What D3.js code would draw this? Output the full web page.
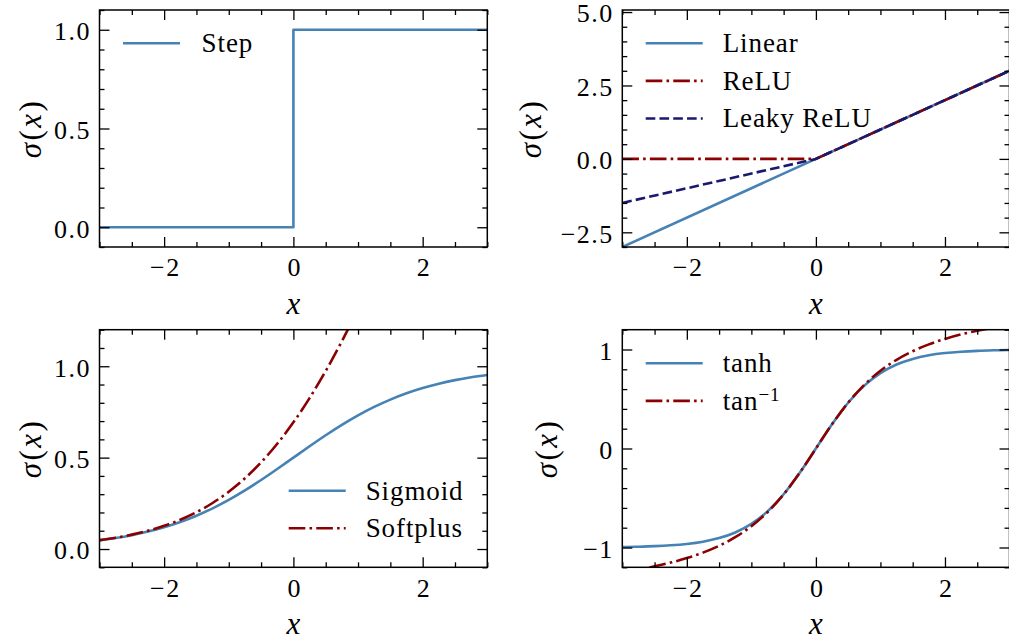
<!DOCTYPE html>
<html>
<head>
<meta charset="utf-8">
<script src="https://cdn.jsdelivr.net/npm/d3@7"></script>
<style>
  html, body { margin: 0; padding: 0; background: #fff; }
  svg { display: block; }
  text { font-family: "Liberation Serif", "DejaVu Serif", serif; fill: #000; }
</style>
</head>
<body>
<svg id="fig" width="1009" height="641"></svg>
<script>
// ---- data: activation functions sampled on [-3, 3] ----
const xGrid = [-3, -2.75, -2.5, -2.25, -2, -1.75, -1.5, -1.25, -1, -0.75, -0.5, -0.25,
               0, 0.25, 0.5, 0.75, 1, 1.25, 1.5, 1.75, 2, 2.25, 2.5, 2.75, 3];

const stepX = [-3, 0, 3];
const stepY = [0, 1, 1];

const kneeX = [-3, 0, 3];
const linearY = [-3, 0, 3];
const reluY = [0, 0, 3];
const leakyReluY = [-1.5, 0, 3];

const sigmoidY = [0.0474, 0.0601, 0.0759, 0.0953, 0.1192, 0.1480, 0.1824, 0.2227, 0.2689,
                  0.3208, 0.3775, 0.4378, 0.5, 0.5622, 0.6225, 0.6792, 0.7311, 0.7773,
                  0.8176, 0.8520, 0.8808, 0.9047, 0.9241, 0.9399, 0.9526];
const softplusY = [0.0486, 0.0620, 0.0789, 0.1002, 0.1269, 0.1602, 0.2014, 0.2519, 0.3133,
                   0.3869, 0.4741, 0.5759, 0.6931, 0.8259, 0.9741, 1.1369, 1.3133, 1.5019,
                   1.7014, 1.9102, 2.1269, 2.3502, 2.5789, 2.8120, 3.0486];
const tanhY = [-0.9951, -0.9918, -0.9866, -0.9780, -0.9640, -0.9414, -0.9051, -0.8483, -0.7616,
               -0.6351, -0.4621, -0.2449, 0, 0.2449, 0.4621, 0.6351, 0.7616, 0.8483,
               0.9051, 0.9414, 0.9640, 0.9780, 0.9866, 0.9918, 0.9951];
const arctanY = [-1.2490, -1.2220, -1.1903, -1.1526, -1.1071, -1.0517, -0.9828, -0.8961, -0.7854,
                 -0.6435, -0.4636, -0.2450, 0, 0.2450, 0.4636, 0.6435, 0.7854, 0.8961,
                 0.9828, 1.0517, 1.1071, 1.1526, 1.1903, 1.2220, 1.2490];

// ---- tick values and labels ----
const xTicks = [-2, 0, 2];
const xTickLabels = ["\u22122", "0", "2"];
const xMinor = [-3, -2.5, -1.5, -1, -0.5, 0.5, 1, 1.5, 2.5, 3];

const stepYTicks = [0, 0.5, 1];
const stepYLabels = ["0.0", "0.5", "1.0"];
const reluYTicks = [-2.5, 0, 2.5, 5];
const reluYLabels = ["\u22122.5", "0.0", "2.5", "5.0"];
const sigYTicks = [0, 0.5, 1];
const sigYLabels = ["0.0", "0.5", "1.0"];
const tanhYTicks = [-1, 0, 1];
const tanhYLabels = ["\u22121", "0", "1"];

// ---- styles ----
const BLUE = "#4682b4", RED = "#8b0000", NAVY = "#191970";
const LW = 2.6;
const DASHDOT = [6.4 * LW, 1.6 * LW, 1 * LW, 1.6 * LW].join(",");
const DASHED = [3.7 * LW, 1.6 * LW].join(",");
const TICK_FONT = "26px", LEGEND_FONT = "27px", LABEL_FONT = "31px";

const zip = (xa, ya) => xa.map((x, i) => [x, ya[i]]);

const panels = [
  {
    box: { left: 99.5, top: 10, right: 487.3, bottom: 247 },
    yDomain: [-0.1, 1.1], yTicks: stepYTicks, yLabels: stepYLabels,
    yMinorStep: 0.1, ylabelX: 32,
    series: [
      { name: "Step", pts: zip(stepX, stepY), color: BLUE, dash: null, curve: d3.curveStepAfter }
    ],
    legend: { x: 123, y: 43.3, textX: 201.6 }
  },
  {
    box: { left: 622.3, top: 10, right: 1009.5, bottom: 247 },
    yDomain: [-3, 5.07], yTicks: reluYTicks, yLabels: reluYLabels,
    yMinorStep: 0.5, ylabelX: 532,
    series: [
      { name: "Linear", pts: zip(kneeX, linearY), color: BLUE, dash: null, curve: d3.curveLinear },
      { name: "ReLU", pts: zip(kneeX, reluY), color: RED, dash: DASHDOT, curve: d3.curveLinear },
      { name: "Leaky ReLU", pts: zip(kneeX, leakyReluY), color: NAVY, dash: DASHED, curve: d3.curveLinear }
    ],
    legend: { x: 645.7, y: 43.3, textX: 722.7 }
  },
  {
    box: { left: 99.5, top: 329.7, right: 487.3, bottom: 567.3 },
    yDomain: [-0.1, 1.2], yTicks: sigYTicks, yLabels: sigYLabels,
    yMinorStep: 0.1, ylabelX: 32,
    series: [
      { name: "Sigmoid", pts: zip(xGrid, sigmoidY), color: BLUE, dash: null, curve: d3.curveMonotoneX },
      { name: "Softplus", pts: zip(xGrid, softplusY), color: RED, dash: DASHDOT, curve: d3.curveMonotoneX }
    ],
    legend: { x: 288.7, y: 490.7, textX: 365.7 }
  },
  {
    box: { left: 622.3, top: 329.7, right: 1009.5, bottom: 567.3 },
    yDomain: [-1.2, 1.2], yTicks: tanhYTicks, yLabels: tanhYLabels,
    yMinorStep: 0.2, ylabelX: 548,
    series: [
      { name: "tanh", pts: zip(xGrid, tanhY), color: BLUE, dash: null, curve: d3.curveMonotoneX },
      { name: "tan", sup: "\u22121", pts: zip(xGrid, arctanY), color: RED, dash: DASHDOT, curve: d3.curveMonotoneX }
    ],
    legend: { x: 645.7, y: 363.3, textX: 722.7 }
  }
];

const svg = d3.select("#fig");
const LEG_GAP = 37.6;

panels.forEach((p, idx) => {
  const b = p.box;
  const x = d3.scaleLinear().domain([-3, 3]).range([b.left, b.right]);
  const y = d3.scaleLinear().domain(p.yDomain).range([b.bottom, b.top]);
  const g = svg.append("g");

  const clipId = "clip" + idx;
  g.append("clipPath").attr("id", clipId)
    .append("rect").attr("x", b.left).attr("y", b.top)
    .attr("width", b.right - b.left).attr("height", b.bottom - b.top);

  // data lines
  const plot = g.append("g").attr("clip-path", `url(#${clipId})`);
  p.series.forEach(s => {
    const line = d3.line().x(d => x(d[0])).y(d => y(d[1])).curve(s.curve);
    plot.append("path").datum(s.pts)
      .attr("d", line)
      .attr("fill", "none")
      .attr("stroke", s.color)
      .attr("stroke-width", LW)
      .attr("stroke-dasharray", s.dash)
      .attr("stroke-linejoin", "round");
  });

  // minor y ticks from domain
  const yMinor = [];
  const y0 = Math.ceil(p.yDomain[0] / p.yMinorStep - 1e-9);
  const y1 = Math.floor(p.yDomain[1] / p.yMinorStep + 1e-9);
  for (let k = y0; k <= y1; k++) {
    const v = +(k * p.yMinorStep).toFixed(6);
    if (!p.yTicks.some(t => Math.abs(t - v) < 1e-6)) yMinor.push(v);
  }

  const styleAxis = sel => {
    sel.attr("font-family", null).attr("font-size", null);
    sel.select(".domain").remove();
    sel.selectAll(".tick line").attr("stroke", "#000").attr("stroke-width", 1.3);
    sel.selectAll(".tick text").style("font-size", TICK_FONT)
      .style("letter-spacing", "1.5px").attr("fill", "#000");
  };

  // major & minor ticks, all four sides, pointing inward
  g.append("g").attr("transform", `translate(0,${b.bottom})`)
    .call(d3.axisBottom(x).tickValues(xTicks).tickSize(-10).tickPadding(9)
      .tickFormat((d, i) => xTickLabels[i]))
    .call(styleAxis)
    .selectAll(".tick text").attr("dx", "0.75").attr("dy", "0.78em");
  g.append("g").attr("transform", `translate(0,${b.bottom})`)
    .call(d3.axisBottom(x).tickValues(xMinor).tickSize(-5).tickFormat(""))
    .call(styleAxis);
  g.append("g").attr("transform", `translate(0,${b.top})`)
    .call(d3.axisTop(x).tickValues(xTicks).tickSize(-10).tickFormat(""))
    .call(styleAxis);
  g.append("g").attr("transform", `translate(0,${b.top})`)
    .call(d3.axisTop(x).tickValues(xMinor).tickSize(-5).tickFormat(""))
    .call(styleAxis);

  g.append("g").attr("transform", `translate(${b.left},0)`)
    .call(d3.axisLeft(y).tickValues(p.yTicks).tickSize(-10).tickPadding(8.5)
      .tickFormat((d, i) => p.yLabels[i]))
    .call(styleAxis)
    .selectAll(".tick text").attr("dy", "0.38em");
  g.append("g").attr("transform", `translate(${b.left},0)`)
    .call(d3.axisLeft(y).tickValues(yMinor).tickSize(-5).tickFormat(""))
    .call(styleAxis);
  g.append("g").attr("transform", `translate(${b.right},0)`)
    .call(d3.axisRight(y).tickValues(p.yTicks).tickSize(-10).tickFormat(""))
    .call(styleAxis);
  g.append("g").attr("transform", `translate(${b.right},0)`)
    .call(d3.axisRight(y).tickValues(yMinor).tickSize(-5).tickFormat(""))
    .call(styleAxis);

  // frame
  g.append("rect").attr("x", b.left).attr("y", b.top)
    .attr("width", b.right - b.left).attr("height", b.bottom - b.top)
    .attr("fill", "none").attr("stroke", "#000").attr("stroke-width", 1.5);

  // axis labels
  g.append("text")
    .attr("x", (b.left + b.right) / 2).attr("y", b.bottom + 67)
    .attr("text-anchor", "middle")
    .style("font-size", LABEL_FONT).style("font-style", "italic")
    .text("x");

  const yl = g.append("text")
    .attr("transform", `translate(${p.ylabelX},${(b.top + b.bottom) / 2}) rotate(-90)`)
    .attr("text-anchor", "middle").attr("dy", "0.3em")
    .style("font-size", LABEL_FONT).style("letter-spacing", "2.5px");
  yl.append("tspan").style("font-style", "italic").text("\u03c3");
  yl.append("tspan").text("(");
  yl.append("tspan").style("font-style", "italic").text("x");
  yl.append("tspan").text(")");

  // legend (no frame)
  p.series.forEach((s, i) => {
    const ly = p.legend.y + i * LEG_GAP;
    g.append("line")
      .attr("x1", p.legend.x).attr("x2", p.legend.x + 57)
      .attr("y1", ly).attr("y2", ly)
      .attr("stroke", s.color).attr("stroke-width", LW)
      .attr("stroke-dasharray", s.dash);
    const t = g.append("text")
      .attr("x", p.legend.textX).attr("y", ly).attr("dy", "0.33em")
      .style("font-size", LEGEND_FONT).style("letter-spacing", "0.9px");
    t.append("tspan").text(s.name);
    if (s.sup) {
      t.append("tspan").attr("dy", "-0.45em").style("font-size", "19px").text(s.sup);
    }
  });
});
</script>
</body>
</html>
